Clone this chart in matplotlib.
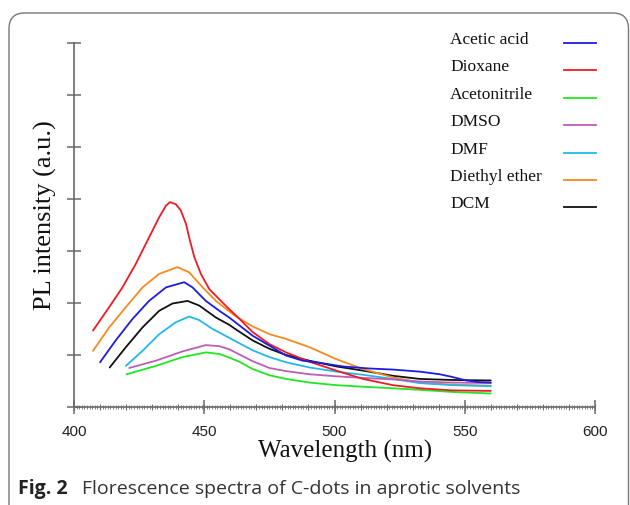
import matplotlib
matplotlib.use("Agg")
import matplotlib.pyplot as plt
from matplotlib.lines import Line2D
from matplotlib.patches import FancyBboxPatch

# spectra (wavelength in nm, PL intensity in arbitrary units)
wl_acetic = [410, 416, 422.4, 428.8, 435.3, 442.3, 445.5, 450.6, 455.8, 459.6, 462.2, 468.6,
             475, 481.4, 487.8, 494.2, 503.2, 513.5, 522.4, 532.7, 540.4, 545, 550.6, 555, 560]
pl_acetic = [0.86, 1.28, 1.69, 2.04, 2.30, 2.40, 2.30, 2.04, 1.85, 1.72, 1.62, 1.37,
             1.18, 0.99, 0.89, 0.85, 0.78, 0.74, 0.72, 0.68, 0.63, 0.58, 0.51, 0.48, 0.47]

wl_dioxane = [407.3, 413.5, 418.6, 423.7, 428.8, 432.7, 435.3, 436.8, 439.1, 441, 443, 444.2,
              446.2, 448.7, 451.9, 455.8, 459.6, 462.2, 468.6, 475, 481.4, 490.4, 500.7,
              510.9, 522.4, 532.7, 545, 560]
pl_dioxane = [1.47, 1.92, 2.30, 2.75, 3.26, 3.65, 3.87, 3.94, 3.90, 3.78, 3.52, 3.26,
              2.88, 2.56, 2.27, 2.07, 1.88, 1.76, 1.44, 1.21, 1.05, 0.87, 0.70,
              0.54, 0.42, 0.36, 0.32, 0.31]

wl_acetonitrile = [420.2, 431.4, 441.7, 450.6, 455.8, 459.6, 463.5, 468.6, 475, 481.4, 490.4,
                   500.7, 510.9, 522.4, 532.7, 545, 560]
pl_acetonitrile = [0.63, 0.79, 0.96, 1.05, 1.02, 0.95, 0.87, 0.73, 0.61, 0.54, 0.47,
                   0.42, 0.39, 0.36, 0.33, 0.29, 0.26]

wl_dmso = [421.2, 431.4, 441.7, 450.6, 455.8, 459.6, 463.5, 468.6, 475, 481.4, 490.4,
           500.7, 510.9, 522.4, 532.7, 545, 560]
pl_dmso = [0.75, 0.89, 1.07, 1.19, 1.17, 1.11, 1.01, 0.88, 0.75, 0.69, 0.63,
           0.59, 0.56, 0.53, 0.49, 0.47, 0.46]

wl_dmf = [419.9, 426.3, 432.7, 439.1, 444.2, 448.1, 453.2, 457, 462.2, 468.6, 475, 481.4,
          490.4, 500.7, 510.9, 522.4, 532.7, 545, 560]
pl_dmf = [0.79, 1.08, 1.40, 1.63, 1.74, 1.67, 1.50, 1.40, 1.26, 1.09, 0.96, 0.86,
          0.76, 0.68, 0.62, 0.54, 0.46, 0.42, 0.40]

wl_ether = [407.3, 413.5, 419.9, 426.3, 432.7, 439.7, 444.2, 449.4, 454.5, 459.6, 462.2,
            468.6, 475, 481.4, 490.4, 500.7, 510.9, 522.4, 532.7, 545, 560]
pl_ether = [1.08, 1.53, 1.92, 2.30, 2.56, 2.69, 2.59, 2.30, 2.04, 1.84, 1.74,
            1.55, 1.40, 1.31, 1.15, 0.92, 0.73, 0.57, 0.47, 0.43, 0.41]

wl_dcm = [413.7, 419.9, 426.3, 432.7, 437.8, 443.6, 448.1, 454.5, 459.6, 462.2, 468.6, 475,
          481.4, 490.4, 500.7, 510.9, 522.4, 532.7, 545, 560]
pl_dcm = [0.76, 1.15, 1.53, 1.85, 1.99, 2.04, 1.95, 1.72, 1.58, 1.49, 1.28, 1.12,
          1.00, 0.89, 0.78, 0.70, 0.60, 0.54, 0.52, 0.51]

solvents = ["Acetic acid", "Dioxane", "Acetonitrile", "DMSO", "DMF", "Diethyl ether", "DCM"]
colors = ["#1c1ce0", "#ec1c24", "#22e622", "#bb5fb5", "#22b8ee", "#f58a1f", "#111111"]
x_ticks = [400, 450, 500, 550, 600]

series = [(wl_acetic, pl_acetic), (wl_dioxane, pl_dioxane), (wl_acetonitrile, pl_acetonitrile),
          (wl_dmso, pl_dmso), (wl_dmf, pl_dmf), (wl_ether, pl_ether), (wl_dcm, pl_dcm)]

fig = plt.figure(figsize=(6.3, 5.06), dpi=100)
ax = fig.add_axes([74 / 630, 1 - 408 / 506, 521 / 630, 364 / 506])

axis_grey = "#6a6a6a"
serif = ["Liberation Serif", "DejaVu Serif"]

# draw in reverse so the blue line ends up on top like the original
for (wl, pl), c in reversed(list(zip(series, colors))):
    ax.plot(wl, pl, color=c, lw=1.3, solid_joinstyle="round", solid_capstyle="round")

ax.set_xlim(400, 600)
ax.set_ylim(0, 7)
ax.set_xticks(x_ticks)
ax.set_xticks(range(400, 601, 1), minor=True)
ax.set_yticks(range(0, 8))
ax.set_yticklabels([])
for side in ["top", "right"]:
    ax.spines[side].set_visible(False)
for side in ["left", "bottom"]:
    ax.spines[side].set_color(axis_grey)
    ax.spines[side].set_linewidth(1.2)
ax.tick_params(axis="both", which="major", direction="inout", length=10, width=1.1,
               color=axis_grey)
ax.tick_params(axis="x", which="minor", direction="inout", length=2.5, width=0.6,
               color=axis_grey)
ax.tick_params(axis="x", which="major", labelsize=11, pad=7)
for lab in ax.get_xticklabels():
    lab.set_family(["Liberation Sans", "DejaVu Sans"])
    lab.set_color("#222222")

# the 10 nm ticks sit between the major and the 1 nm ones
sec = ax.secondary_xaxis("bottom")
sec.set_xticks(range(400, 601, 10))
sec.tick_params(direction="inout", length=5, width=0.8, color=axis_grey, labelbottom=False)
sec.spines["bottom"].set_visible(False)

ax.set_xlabel("Wavelength (nm)", fontsize=18, family=serif, color="#111111")
ax.xaxis.set_label_coords(0.52, -0.088)
ax.set_ylabel("PL intensity (a.u.)", fontsize=19, family=serif, color="#111111")
ax.yaxis.set_label_coords(-0.033, 0.53)

# legend: names on the left, short line keys in a column to the right
row_h = 27.4 / 364
for i, (name, c) in enumerate(zip(solvents, colors)):
    y = 1.0 - i * row_h
    ax.text(0.722, y, name, transform=ax.transAxes, fontsize=12.5, family=serif,
            va="baseline", ha="left", color="#111111")
    ax.add_line(Line2D([0.94, 1.002], [y, y], transform=ax.transAxes, color=c, lw=1.3,
                       clip_on=False))

# caption and the rounded frame around the whole panel
fig.text(18 / 630, 1 - 489 / 506, "Fig. 2", fontsize=14, fontweight="bold",
         family=["Open Sans", "DejaVu Sans"], va="center", ha="left", color="#222222")
fig.text(82 / 630, 1 - 489 / 506, "Florescence spectra of C-dots in aprotic solvents",
         fontsize=14, family=["Open Sans", "DejaVu Sans"], va="center", ha="left",
         color="#333333")
frame = FancyBboxPatch((9 / 630, -0.05), 619.5 / 630, (506 - 14) / 506 + 0.05,
                       boxstyle="round,pad=0,rounding_size=0.025", transform=fig.transFigure,
                       fill=False, edgecolor="#777777", lw=1.0, mutation_aspect=630 / 506)
fig.patches.append(frame)

fig.savefig("out.png", dpi=100)
